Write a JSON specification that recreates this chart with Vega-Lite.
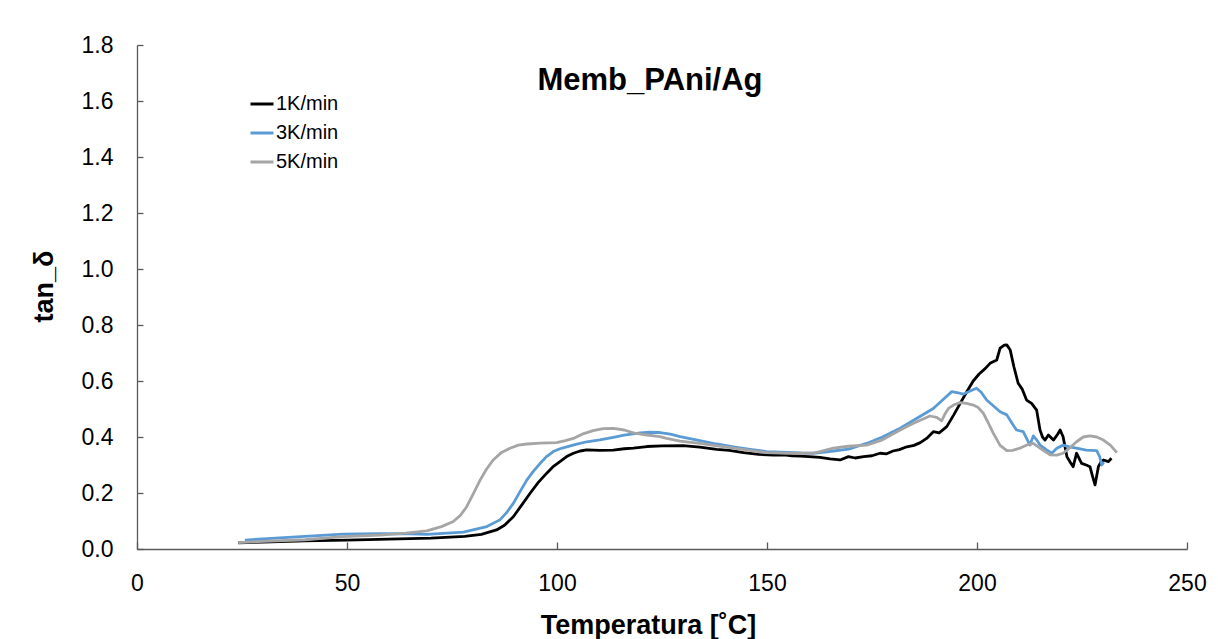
{
  "$schema": "https://vega.github.io/schema/vega-lite/v6.json",
  "width": 1050,
  "height": 504,
  "autosize": {"type": "none"},
  "padding": {"left": 137, "top": 45, "right": 31, "bottom": 90},
  "background": "white",
  "title": {
    "text": "Memb_PAni/Ag",
    "fontSize": 31,
    "fontWeight": "bold",
    "font": "Liberation Sans",
    "color": "#000000",
    "anchor": "middle",
    "offset": -63,
    "dx": -12
  },
  "data": {
    "values": [
      {"rate": "1K/min", "T": 24.1, "v": 0.022},
      {"rate": "1K/min", "T": 30, "v": 0.025},
      {"rate": "1K/min", "T": 40, "v": 0.029},
      {"rate": "1K/min", "T": 50, "v": 0.032},
      {"rate": "1K/min", "T": 60, "v": 0.035},
      {"rate": "1K/min", "T": 70, "v": 0.039},
      {"rate": "1K/min", "T": 78, "v": 0.045},
      {"rate": "1K/min", "T": 82, "v": 0.052},
      {"rate": "1K/min", "T": 85.6, "v": 0.068},
      {"rate": "1K/min", "T": 87.5, "v": 0.085},
      {"rate": "1K/min", "T": 89.6, "v": 0.115},
      {"rate": "1K/min", "T": 91.5, "v": 0.155},
      {"rate": "1K/min", "T": 93.6, "v": 0.199},
      {"rate": "1K/min", "T": 95.5, "v": 0.237},
      {"rate": "1K/min", "T": 97.5, "v": 0.27},
      {"rate": "1K/min", "T": 99, "v": 0.293},
      {"rate": "1K/min", "T": 100.7, "v": 0.312},
      {"rate": "1K/min", "T": 102.3, "v": 0.33},
      {"rate": "1K/min", "T": 103.9, "v": 0.342},
      {"rate": "1K/min", "T": 105.5, "v": 0.35},
      {"rate": "1K/min", "T": 107.1, "v": 0.354},
      {"rate": "1K/min", "T": 110.2, "v": 0.352},
      {"rate": "1K/min", "T": 113.4, "v": 0.353},
      {"rate": "1K/min", "T": 116, "v": 0.358},
      {"rate": "1K/min", "T": 118.2, "v": 0.36},
      {"rate": "1K/min", "T": 121.4, "v": 0.366},
      {"rate": "1K/min", "T": 125, "v": 0.368},
      {"rate": "1K/min", "T": 130, "v": 0.369},
      {"rate": "1K/min", "T": 134, "v": 0.364},
      {"rate": "1K/min", "T": 138, "v": 0.356},
      {"rate": "1K/min", "T": 141, "v": 0.352},
      {"rate": "1K/min", "T": 144.4, "v": 0.344},
      {"rate": "1K/min", "T": 148, "v": 0.338},
      {"rate": "1K/min", "T": 151.5, "v": 0.335},
      {"rate": "1K/min", "T": 154, "v": 0.336},
      {"rate": "1K/min", "T": 156, "v": 0.333},
      {"rate": "1K/min", "T": 157.9, "v": 0.332},
      {"rate": "1K/min", "T": 160, "v": 0.33},
      {"rate": "1K/min", "T": 162.6, "v": 0.327},
      {"rate": "1K/min", "T": 165, "v": 0.322},
      {"rate": "1K/min", "T": 167.4, "v": 0.318},
      {"rate": "1K/min", "T": 169.4, "v": 0.33},
      {"rate": "1K/min", "T": 171, "v": 0.325},
      {"rate": "1K/min", "T": 173, "v": 0.33},
      {"rate": "1K/min", "T": 175, "v": 0.333},
      {"rate": "1K/min", "T": 176.9, "v": 0.342},
      {"rate": "1K/min", "T": 178.5, "v": 0.34},
      {"rate": "1K/min", "T": 180, "v": 0.35},
      {"rate": "1K/min", "T": 181.5, "v": 0.355},
      {"rate": "1K/min", "T": 183.3, "v": 0.365},
      {"rate": "1K/min", "T": 185, "v": 0.37},
      {"rate": "1K/min", "T": 186.5, "v": 0.38},
      {"rate": "1K/min", "T": 188, "v": 0.395},
      {"rate": "1K/min", "T": 189.6, "v": 0.419},
      {"rate": "1K/min", "T": 191, "v": 0.415},
      {"rate": "1K/min", "T": 192.8, "v": 0.437},
      {"rate": "1K/min", "T": 194.5, "v": 0.48},
      {"rate": "1K/min", "T": 196, "v": 0.52},
      {"rate": "1K/min", "T": 197.5, "v": 0.56},
      {"rate": "1K/min", "T": 199.1, "v": 0.6},
      {"rate": "1K/min", "T": 200.5, "v": 0.625},
      {"rate": "1K/min", "T": 202, "v": 0.645},
      {"rate": "1K/min", "T": 203.1, "v": 0.663},
      {"rate": "1K/min", "T": 204.7, "v": 0.675},
      {"rate": "1K/min", "T": 205.5, "v": 0.717},
      {"rate": "1K/min", "T": 206.5, "v": 0.728},
      {"rate": "1K/min", "T": 207.1, "v": 0.729},
      {"rate": "1K/min", "T": 207.9, "v": 0.711},
      {"rate": "1K/min", "T": 208.8, "v": 0.65},
      {"rate": "1K/min", "T": 209.8, "v": 0.592},
      {"rate": "1K/min", "T": 210.8, "v": 0.57},
      {"rate": "1K/min", "T": 211.8, "v": 0.532},
      {"rate": "1K/min", "T": 213, "v": 0.52},
      {"rate": "1K/min", "T": 214.2, "v": 0.496},
      {"rate": "1K/min", "T": 215, "v": 0.425},
      {"rate": "1K/min", "T": 215.6, "v": 0.4},
      {"rate": "1K/min", "T": 216.2, "v": 0.389},
      {"rate": "1K/min", "T": 217, "v": 0.407},
      {"rate": "1K/min", "T": 218.2, "v": 0.389},
      {"rate": "1K/min", "T": 219.2, "v": 0.41},
      {"rate": "1K/min", "T": 219.8, "v": 0.425},
      {"rate": "1K/min", "T": 220.5, "v": 0.401},
      {"rate": "1K/min", "T": 221.4, "v": 0.33},
      {"rate": "1K/min", "T": 222.2, "v": 0.31},
      {"rate": "1K/min", "T": 222.9, "v": 0.294},
      {"rate": "1K/min", "T": 223.7, "v": 0.342},
      {"rate": "1K/min", "T": 224.9, "v": 0.306},
      {"rate": "1K/min", "T": 226, "v": 0.3},
      {"rate": "1K/min", "T": 226.9, "v": 0.294},
      {"rate": "1K/min", "T": 227.5, "v": 0.26},
      {"rate": "1K/min", "T": 228.1, "v": 0.229},
      {"rate": "1K/min", "T": 228.9, "v": 0.294},
      {"rate": "1K/min", "T": 229.5, "v": 0.31},
      {"rate": "1K/min", "T": 230.1, "v": 0.318},
      {"rate": "1K/min", "T": 231.3, "v": 0.312},
      {"rate": "1K/min", "T": 232, "v": 0.324},

      {"rate": "3K/min", "T": 25.7, "v": 0.032},
      {"rate": "3K/min", "T": 30, "v": 0.036},
      {"rate": "3K/min", "T": 40, "v": 0.045},
      {"rate": "3K/min", "T": 49, "v": 0.053},
      {"rate": "3K/min", "T": 57.9, "v": 0.055},
      {"rate": "3K/min", "T": 65, "v": 0.054},
      {"rate": "3K/min", "T": 69, "v": 0.052},
      {"rate": "3K/min", "T": 77.7, "v": 0.06},
      {"rate": "3K/min", "T": 83.3, "v": 0.08},
      {"rate": "3K/min", "T": 86.4, "v": 0.104},
      {"rate": "3K/min", "T": 88, "v": 0.13},
      {"rate": "3K/min", "T": 89.6, "v": 0.163},
      {"rate": "3K/min", "T": 91.2, "v": 0.205},
      {"rate": "3K/min", "T": 92.8, "v": 0.246},
      {"rate": "3K/min", "T": 94.4, "v": 0.278},
      {"rate": "3K/min", "T": 96, "v": 0.306},
      {"rate": "3K/min", "T": 97.5, "v": 0.33},
      {"rate": "3K/min", "T": 99.1, "v": 0.348},
      {"rate": "3K/min", "T": 100.7, "v": 0.358},
      {"rate": "3K/min", "T": 102.3, "v": 0.365},
      {"rate": "3K/min", "T": 104.5, "v": 0.374},
      {"rate": "3K/min", "T": 107.1, "v": 0.383},
      {"rate": "3K/min", "T": 110.2, "v": 0.39},
      {"rate": "3K/min", "T": 113.4, "v": 0.399},
      {"rate": "3K/min", "T": 116, "v": 0.407},
      {"rate": "3K/min", "T": 119.8, "v": 0.415},
      {"rate": "3K/min", "T": 122, "v": 0.417},
      {"rate": "3K/min", "T": 124.5, "v": 0.416},
      {"rate": "3K/min", "T": 127, "v": 0.41},
      {"rate": "3K/min", "T": 129.3, "v": 0.401},
      {"rate": "3K/min", "T": 134, "v": 0.387},
      {"rate": "3K/min", "T": 138, "v": 0.375},
      {"rate": "3K/min", "T": 142, "v": 0.365},
      {"rate": "3K/min", "T": 146, "v": 0.356},
      {"rate": "3K/min", "T": 149.9, "v": 0.348},
      {"rate": "3K/min", "T": 155, "v": 0.345},
      {"rate": "3K/min", "T": 158, "v": 0.343},
      {"rate": "3K/min", "T": 161, "v": 0.342},
      {"rate": "3K/min", "T": 165.8, "v": 0.35},
      {"rate": "3K/min", "T": 169.4, "v": 0.357},
      {"rate": "3K/min", "T": 173.7, "v": 0.377},
      {"rate": "3K/min", "T": 177.5, "v": 0.4},
      {"rate": "3K/min", "T": 181.7, "v": 0.431},
      {"rate": "3K/min", "T": 185.5, "v": 0.465},
      {"rate": "3K/min", "T": 189.6, "v": 0.502},
      {"rate": "3K/min", "T": 192, "v": 0.535},
      {"rate": "3K/min", "T": 194, "v": 0.562},
      {"rate": "3K/min", "T": 195.5, "v": 0.558},
      {"rate": "3K/min", "T": 196.7, "v": 0.553},
      {"rate": "3K/min", "T": 198.5, "v": 0.565},
      {"rate": "3K/min", "T": 199.9, "v": 0.574},
      {"rate": "3K/min", "T": 201, "v": 0.56},
      {"rate": "3K/min", "T": 202.3, "v": 0.532},
      {"rate": "3K/min", "T": 204, "v": 0.51},
      {"rate": "3K/min", "T": 205.5, "v": 0.49},
      {"rate": "3K/min", "T": 207.1, "v": 0.479},
      {"rate": "3K/min", "T": 208.3, "v": 0.45},
      {"rate": "3K/min", "T": 209.4, "v": 0.425},
      {"rate": "3K/min", "T": 211, "v": 0.419},
      {"rate": "3K/min", "T": 212.6, "v": 0.371},
      {"rate": "3K/min", "T": 213.4, "v": 0.404},
      {"rate": "3K/min", "T": 214.2, "v": 0.39},
      {"rate": "3K/min", "T": 215, "v": 0.371},
      {"rate": "3K/min", "T": 216.5, "v": 0.355},
      {"rate": "3K/min", "T": 217.8, "v": 0.342},
      {"rate": "3K/min", "T": 219, "v": 0.36},
      {"rate": "3K/min", "T": 220.5, "v": 0.371},
      {"rate": "3K/min", "T": 222, "v": 0.365},
      {"rate": "3K/min", "T": 223.7, "v": 0.36},
      {"rate": "3K/min", "T": 226, "v": 0.353},
      {"rate": "3K/min", "T": 228.5, "v": 0.351},
      {"rate": "3K/min", "T": 229.2, "v": 0.33},
      {"rate": "3K/min", "T": 229.7, "v": 0.3},
      {"rate": "3K/min", "T": 230.2, "v": 0.31},

      {"rate": "5K/min", "T": 24.1, "v": 0.023},
      {"rate": "5K/min", "T": 30, "v": 0.027},
      {"rate": "5K/min", "T": 40, "v": 0.033},
      {"rate": "5K/min", "T": 49, "v": 0.044},
      {"rate": "5K/min", "T": 57.9, "v": 0.05},
      {"rate": "5K/min", "T": 64, "v": 0.057},
      {"rate": "5K/min", "T": 69, "v": 0.065},
      {"rate": "5K/min", "T": 72.5, "v": 0.08},
      {"rate": "5K/min", "T": 75.3, "v": 0.098},
      {"rate": "5K/min", "T": 77, "v": 0.12},
      {"rate": "5K/min", "T": 78.5, "v": 0.151},
      {"rate": "5K/min", "T": 80, "v": 0.195},
      {"rate": "5K/min", "T": 81.7, "v": 0.246},
      {"rate": "5K/min", "T": 83.2, "v": 0.285},
      {"rate": "5K/min", "T": 84.8, "v": 0.318},
      {"rate": "5K/min", "T": 86.8, "v": 0.345},
      {"rate": "5K/min", "T": 88.8, "v": 0.36},
      {"rate": "5K/min", "T": 90.8, "v": 0.371},
      {"rate": "5K/min", "T": 92.8, "v": 0.375},
      {"rate": "5K/min", "T": 96, "v": 0.378},
      {"rate": "5K/min", "T": 99.9, "v": 0.38},
      {"rate": "5K/min", "T": 102, "v": 0.387},
      {"rate": "5K/min", "T": 103.9, "v": 0.395},
      {"rate": "5K/min", "T": 106, "v": 0.41},
      {"rate": "5K/min", "T": 108.6, "v": 0.423},
      {"rate": "5K/min", "T": 111, "v": 0.43},
      {"rate": "5K/min", "T": 113.4, "v": 0.431},
      {"rate": "5K/min", "T": 116, "v": 0.425},
      {"rate": "5K/min", "T": 118.2, "v": 0.415},
      {"rate": "5K/min", "T": 121, "v": 0.408},
      {"rate": "5K/min", "T": 124.5, "v": 0.401},
      {"rate": "5K/min", "T": 126.1, "v": 0.395},
      {"rate": "5K/min", "T": 129.3, "v": 0.385},
      {"rate": "5K/min", "T": 134, "v": 0.377},
      {"rate": "5K/min", "T": 142, "v": 0.36},
      {"rate": "5K/min", "T": 149.9, "v": 0.344},
      {"rate": "5K/min", "T": 155, "v": 0.342},
      {"rate": "5K/min", "T": 161, "v": 0.342},
      {"rate": "5K/min", "T": 165.8, "v": 0.36},
      {"rate": "5K/min", "T": 169.4, "v": 0.367},
      {"rate": "5K/min", "T": 173.7, "v": 0.371},
      {"rate": "5K/min", "T": 177.5, "v": 0.39},
      {"rate": "5K/min", "T": 181.7, "v": 0.425},
      {"rate": "5K/min", "T": 185, "v": 0.45},
      {"rate": "5K/min", "T": 188.8, "v": 0.475},
      {"rate": "5K/min", "T": 190.4, "v": 0.47},
      {"rate": "5K/min", "T": 191.6, "v": 0.458},
      {"rate": "5K/min", "T": 192.3, "v": 0.48},
      {"rate": "5K/min", "T": 193.2, "v": 0.502},
      {"rate": "5K/min", "T": 194.5, "v": 0.515},
      {"rate": "5K/min", "T": 196, "v": 0.523},
      {"rate": "5K/min", "T": 197.5, "v": 0.52},
      {"rate": "5K/min", "T": 199.1, "v": 0.514},
      {"rate": "5K/min", "T": 200.3, "v": 0.505},
      {"rate": "5K/min", "T": 201.5, "v": 0.485},
      {"rate": "5K/min", "T": 202.7, "v": 0.45},
      {"rate": "5K/min", "T": 203.9, "v": 0.413},
      {"rate": "5K/min", "T": 205.5, "v": 0.37},
      {"rate": "5K/min", "T": 207.1, "v": 0.351},
      {"rate": "5K/min", "T": 208.5, "v": 0.352},
      {"rate": "5K/min", "T": 210.2, "v": 0.36},
      {"rate": "5K/min", "T": 212, "v": 0.372},
      {"rate": "5K/min", "T": 213.4, "v": 0.377},
      {"rate": "5K/min", "T": 215.5, "v": 0.355},
      {"rate": "5K/min", "T": 217.4, "v": 0.336},
      {"rate": "5K/min", "T": 219, "v": 0.335},
      {"rate": "5K/min", "T": 220.5, "v": 0.342},
      {"rate": "5K/min", "T": 222, "v": 0.36},
      {"rate": "5K/min", "T": 223.7, "v": 0.383},
      {"rate": "5K/min", "T": 225.3, "v": 0.4},
      {"rate": "5K/min", "T": 226.9, "v": 0.404},
      {"rate": "5K/min", "T": 228.5, "v": 0.4},
      {"rate": "5K/min", "T": 230.1, "v": 0.389},
      {"rate": "5K/min", "T": 231.8, "v": 0.37},
      {"rate": "5K/min", "T": 233.3, "v": 0.344}
    ]
  },
  "mark": {"type": "line", "strokeWidth": 2.8, "interpolate": "linear", "strokeJoin": "round"},
  "encoding": {
    "x": {
      "field": "T",
      "type": "quantitative",
      "scale": {"domain": [0, 250], "nice": false, "zero": false},
      "axis": {
        "values": [0, 50, 100, 150, 200, 250],
        "title": "Temperatura [˚C]",
        "grid": false,
        "labelFlush": false,
        "tickSize": -7,
        "labelPadding": 30,
        "titleX": 511,
        "titleY": 84,
        "titleBaseline": "alphabetic",
        "titleAlign": "center"
      }
    },
    "y": {
      "field": "v",
      "type": "quantitative",
      "scale": {"domain": [0, 1.8], "nice": false},
      "axis": {
        "values": [0, 0.2, 0.4, 0.6, 0.8, 1.0, 1.2, 1.4, 1.6, 1.8],
        "format": ".1f",
        "title": "tan_δ",
        "grid": false,
        "labelFlush": false,
        "tickSize": -6,
        "labelPadding": 30,
        "titleX": -85,
        "titleY": 241,
        "titleBaseline": "alphabetic",
        "titleAlign": "center",
        "titleAngle": -90
      }
    },
    "color": {
      "field": "rate",
      "type": "nominal",
      "scale": {"domain": ["1K/min", "3K/min", "5K/min"], "range": ["#000000", "#5b9bd5", "#a5a5a5"]},
      "legend": {
        "title": null,
        "orient": "none",
        "legendX": 112,
        "legendY": 46,
        "symbolType": "stroke",
        "symbolSize": 529,
        "symbolStrokeWidth": 3,
        "labelFontSize": 20,
        "labelOffset": 1,
        "rowPadding": 6,
        "labelFont": "Liberation Sans",
        "labelColor": "#000000"
      }
    }
  },
  "config": {
    "view": {"stroke": null},
    "font": "Liberation Sans",
    "axis": {
      "labelFont": "Liberation Sans",
      "labelFontSize": 23,
      "labelColor": "#000000",
      "titleFont": "Liberation Sans",
      "titleFontSize": 27,
      "titleFontWeight": "bold",
      "titleColor": "#000000",
      "domainColor": "#595959",
      "domainWidth": 1.3,
      "tickColor": "#595959",
      "tickWidth": 1.3
    }
  }
}
